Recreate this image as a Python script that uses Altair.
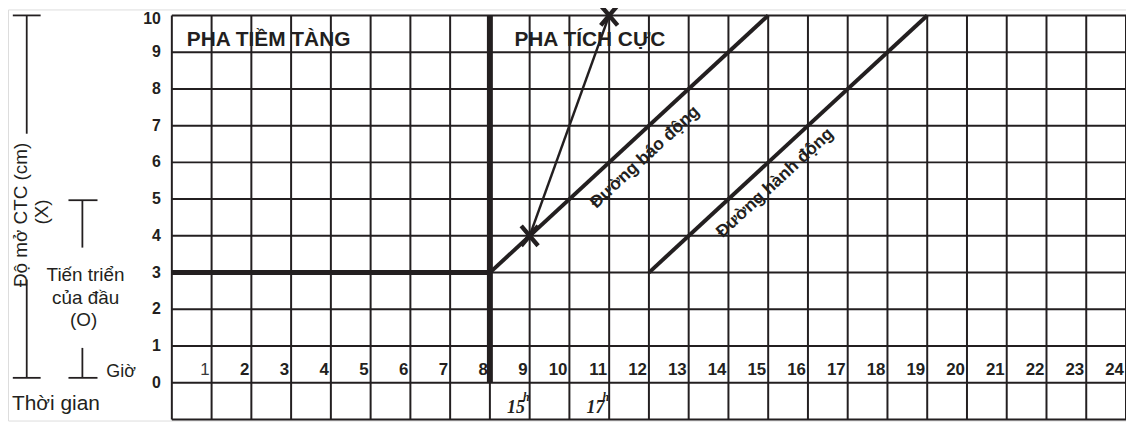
import altair as alt
import pandas as pd

INK = "#231f20"
FONT = "Liberation Sans"

# ---- data ----
grid_cols = list(range(0, 25))          # vertical grid lines (hours)
grid_rows = list(range(-1, 11))         # horizontal grid lines (cm)
cm_labels = list(range(0, 11))
hour_labels = list(range(1, 25))

latent_x = [0, 8]; latent_y = [3, 3]
divider_x = [8, 8]; divider_y = [0, 10]
alert_x = [8, 15]; alert_y = [3, 10]
action_x = [12, 19]; action_y = [3, 10]
obs_hours = [9, 11]; obs_cm = [4, 10]; obs_time = ["15", "17"]

phase_names = ["PHA TIỀM TÀNG", "PHA TÍCH CỰC"]
phase_x = [0.375, 8.616]; phase_y = [9.32, 9.32]

line_names = ["Đường báo động", "Đường hành động"]
line_lx = [11.9, 15.17]; line_ly = [6.14, 5.44]

# left-side bracket segments (x1, y1, x2, y2) in chart units
brk_x1 = [-4.00, -3.65, -3.65, -4.00, -2.60, -2.25, -2.25, -2.60]
brk_y1 = [10.00, 10.00, 2.81, 0.135, 4.97, 4.97, 0.95, 0.135]
brk_x2 = [-3.30, -3.65, -3.65, -3.30, -1.87, -2.25, -2.25, -1.87]
brk_y2 = [10.00, 6.78, 0.135, 0.135, 4.97, 3.68, 0.135, 0.135]

side_text = ["Tiến triển", "của đầu", "(O)"]
side_x = [-2.17, -2.17, -2.22]; side_y = [2.92, 2.30, 1.70]

XD = [-4.121, 24.0]
YD = [-1.027, 10.162]


def X(field="x"):
    return alt.X(f"{field}:Q", scale=alt.Scale(domain=XD, nice=False, zero=False), axis=None)


def Y(field="y"):
    return alt.Y(f"{field}:Q", scale=alt.Scale(domain=YD, nice=False, zero=False), axis=None)


# grid
vgrid = alt.Chart(pd.DataFrame({"x": grid_cols, "y": -1, "y2": 10})).mark_rule(
    color=INK, strokeWidth=2).encode(x=X(), y=Y(), y2="y2:Q")
hgrid = alt.Chart(pd.DataFrame({"y": grid_rows, "x": 0, "x2": 24})).mark_rule(
    color=INK, strokeWidth=2).encode(y=Y(), x=X(), x2="x2:Q")


def seg(xs, ys, w):
    return alt.Chart(pd.DataFrame({"x": xs, "y": ys})).mark_line(
        color=INK, strokeWidth=w).encode(x=X(), y=Y())


latent = seg(latent_x, latent_y, 5)
divider = seg(divider_x, divider_y, 6)
alert = seg(alert_x, alert_y, 4)
action = seg(action_x, action_y, 4)
progress = seg(obs_hours, obs_cm, 2.5)

obs_df = pd.DataFrame({"x": obs_hours, "y": obs_cm, "t": obs_time})
marks = alt.Chart(obs_df).mark_point(
    shape="M-0.85,-1L0.85,1M0.85,-1L-0.85,1", filled=False, size=400,
    stroke=INK, strokeWidth=4.4, opacity=1
).encode(x=X(), y=Y())

phase = alt.Chart(pd.DataFrame({"x": phase_x, "y": phase_y, "t": phase_names})).mark_text(
    font=FONT, fontWeight="bold", fontSize=21, color=INK, align="left", baseline="middle"
).encode(x=X(), y=Y(), text="t:N")

line_lbl = alt.Chart(pd.DataFrame({"x": line_lx, "y": line_ly, "t": line_names})).mark_text(
    font=FONT, fontWeight="bold", fontSize=17.5, color=INK, align="center", baseline="middle", angle=317.3
).encode(x=X(), y=Y(), text="t:N")

cm_df = pd.DataFrame({"v": cm_labels})
cm_df["x"] = -0.275
cm_df["y"] = [v if v < 10 else v - 0.11 for v in cm_labels]
cm_txt = alt.Chart(cm_df).mark_text(
    font=FONT, fontWeight="bold", fontSize=16, color=INK, align="right", baseline="middle"
).encode(x=X(), y=Y(), text="v:N")

hr_df = pd.DataFrame({"h": hour_labels})
hr_df["x"] = hr_df["h"] - 0.05
hr_df["y"] = 0.35
hr_bold = alt.Chart(hr_df[hr_df.h > 1]).mark_text(
    font=FONT, fontWeight="bold", fontSize=17, color=INK, align="right", baseline="middle"
).encode(x=X(), y=Y(), text="h:N")
hr_one = alt.Chart(hr_df[hr_df.h == 1]).mark_text(
    font=FONT, fontSize=17, color="#3a3a3a", align="right", baseline="middle"
).encode(x=X(), y=Y(), text="h:N")

time_df = pd.DataFrame({"x": [h - 0.12 for h in obs_hours], "y": -0.70, "t": obs_time,
                        "hx": [h - 0.17 for h in obs_hours], "hy": -0.40})
time_txt = alt.Chart(time_df).mark_text(
    font="Liberation Serif", fontWeight="bold", fontStyle="italic", fontSize=18, color=INK,
    align="right", baseline="middle"
).encode(x=X(), y=Y(), text="t:N")
time_h = alt.Chart(time_df).mark_text(
    text="h", font="Liberation Serif", fontWeight="bold", fontStyle="italic", fontSize=12, color=INK,
    align="left", baseline="middle"
).encode(x=X("hx"), y=Y("hy"))

# left side annotation
brk = alt.Chart(pd.DataFrame({"x": brk_x1, "y": brk_y1, "x2": brk_x2, "y2": brk_y2})).mark_rule(
    color=INK, strokeWidth=1.8).encode(x=X(), y=Y(), x2="x2:Q", y2="y2:Q")

vert_df = pd.DataFrame({"x": [-3.784, -3.27], "y": [4.57, 4.65], "t": ["Độ mở CTC (cm)", "(X)"]})
vert_txt = alt.Chart(vert_df).mark_text(
    font=FONT, fontSize=19, color=INK, angle=270, align="center", baseline="middle"
).encode(x=X(), y=Y(), text="t:N")

side_df = pd.DataFrame({"x": side_x, "y": side_y, "t": side_text})
side_txt = alt.Chart(side_df).mark_text(
    font=FONT, fontSize=19, color=INK, align="center", baseline="middle"
).encode(x=X(), y=Y(), text="t:N")

gio = alt.Chart(pd.DataFrame({"x": [-1.648], "y": [0.30], "t": ["Giờ"]})).mark_text(
    font=FONT, fontSize=18, color=INK, align="left", baseline="middle"
).encode(x=X(), y=Y(), text="t:N")
thoigian = alt.Chart(pd.DataFrame({"x": [-4.02], "y": [-0.59], "t": ["Thời gian"]})).mark_text(
    font=FONT, fontSize=21, color=INK, align="left", baseline="middle"
).encode(x=X(), y=Y(), text="t:N")

chart = alt.layer(
    vgrid, hgrid, latent, divider, alert, action, progress, marks,
    phase, line_lbl, cm_txt, hr_bold, hr_one, time_txt, time_h,
    brk, vert_txt, side_txt, gio, thoigian,
).properties(
    width=1126, height=414, padding=0,
    autosize=alt.AutoSizeParams(type="none"),
).configure_view(stroke=None).configure(background="white")

chart.save("out.html", embed_options={"renderer": "svg", "actions": False})
